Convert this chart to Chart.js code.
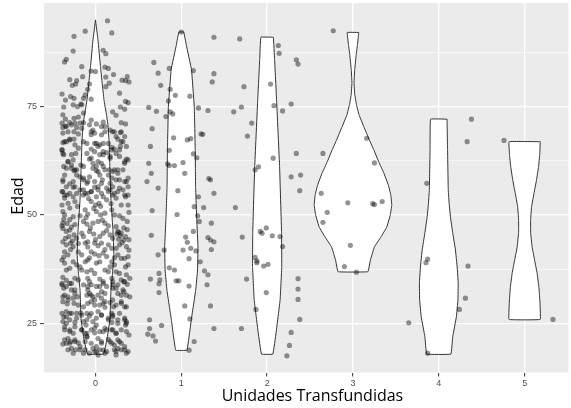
<!DOCTYPE html>
<html>
<head>
<meta charset="utf-8">
<script src="https://cdn.jsdelivr.net/npm/chart.js@4"></script>
<style>
  html, body { margin: 0; padding: 0; background: #fff; }
  #wrap { width: 571px; height: 408px; }
</style>
</head>
<body>
<div id="wrap"><canvas id="grafico"></canvas></div>
<script>
// categorias del eje x (unidades transfundidas)
const unidades = [0, 1, 2, 3, 4, 5];
const ticksEdad = [25, 37.5, 50, 62.5, 75, 87.5];
const ticksMayores = [25, 50, 75];

// perfil de cada violin: edad y semi-ancho (densidad)
const violinEdad0 = [95.0, 90.4, 84.2, 76.5, 73.1, 70.8, 67.3, 60.4, 53.5, 46.5, 40.8, 36.2, 32.7, 25.8, 21.2, 17.9];
const violinAncho0 = [0, .029, .058, .099, .128, .145, .157, .168, .180, .203, .214, .197, .180, .168, .133, .093];
const violinEdad1 = [92.2, 89.2, 83.5, 74.9, 65.0, 56.5, 48.8, 42.6, 37.3, 32.7, 25.8, 18.8];
const violinAncho1 = [.029, .058, .119, .151, .162, .166, .180, .194, .189, .168, .116, .066];
const violinEdad2 = [91.0, 85.8, 76.5, 61.1, 45.9, 38.0, 30.4, 22.8, 17.9];
const violinAncho2 = [.073, .087, .110, .145, .168, .170, .151, .104, .066];
const violinEdad3 = [92.1, 89.2, 86.9, 83.5, 80.5, 77.7, 75.4, 73.1, 70.3, 67.3, 65.0, 62.2, 59.7, 56.9, 54.6, 52.3, 50.0, 47.2, 44.9, 42.6, 39.6, 36.9];
const violinAncho3 = [.067, .052, .037, .020, .012, .021, .041, .070, .128, .191, .243, .301, .359, .412, .441, .452, .435, .394, .325, .249, .203, .174];
const violinEdad4 = [72.1, 65.0, 55.8, 52.3, 49.5, 45.9, 41.9, 38.0, 34.3, 30.4, 26.5, 21.9, 17.9];
const violinAncho4 = [.096, .102, .110, .122, .136, .162, .194, .214, .226, .223, .205, .162, .141];
const violinEdad5 = [66.9, 63.9, 61.1, 58.1, 55.1, 51.9, 48.9, 45.9, 42.6, 39.6, 36.6, 33.4, 30.4, 25.9];
const violinAncho5 = [.182, .176, .162, .139, .110, .081, .070, .070, .087, .116, .145, .166, .177, .182];

// pacientes: [desplazamiento jitter, edad]
const puntos0 = [
  [0.14,94.8],[-0.12,92.4],[0.19,92.0],[-0.25,91.2],[-0.26,87.8],[0.09,88.0],[0.12,87.2],[-0.34,85.9],[-0.36,85.3],
  [-0.16,84.2],[0.11,84.1],[0.15,83.8],[-0.05,83.2],[0.00,83.1],[0.21,82.4],[0.12,81.8],[-0.15,81.9],[-0.30,81.2],
  [-0.22,81.0],[-0.23,80.2],[0.37,81.9],[0.35,81.0],[0.39,80.7],[0.31,81.1],[0.16,80.4],[0.12,79.6],[-0.07,80.2],
  [-0.09,79.0],[-0.27,79.9],[-0.39,77.9],[-0.12,77.7],[-0.14,76.9],[0.28,78.1],[-0.25,76.9],[-0.29,77.3],[-0.35,76.5],
  [0.35,76.2],[0.38,75.9],[-0.05,76.7],[-0.17,75.6],
  [-0.37,74.9],[-0.26,75.4],[-0.21,75.0],[-0.16,75.4],[0.20,73.8],[0.24,73.0],[0.29,74.9],[0.34,74.4],[-0.38,73.1],
  [-0.35,72.1],[-0.25,72.3],[-0.20,72.6],[-0.14,73.5],[-0.30,71.3],[-0.35,70.5],[-0.38,70.2],[-0.24,71.2],[-0.22,70.2],
  [-0.14,71.3],[-0.05,71.9],[0.01,71.0],[0.09,71.4],[0.11,70.4],[0.17,69.6],[0.22,69.2],[0.30,71.3],[0.35,71.0],
  [0.29,69.0],[-0.05,69.2],[-0.01,68.9],[-0.32,69.2],[-0.25,69.2],[-0.20,68.7],[-0.38,68.9],[0.07,68.5],[-0.30,67.5],
  [-0.25,67.5],[0.26,67.5],[0.32,66.9],[-0.14,66.9],[-0.10,66.5],[0.01,66.5],[0.05,66.2],[0.09,66.5],[-0.38,66.7],
  [-0.34,66.9],[-0.39,65.0],[0.19,65.6],[0.22,65.2],[0.28,65.0],[0.29,65.8],[-0.05,65.2],[-0.01,64.6],[-0.23,64.2],
  [-0.28,63.9],[0.09,63.9],[0.13,64.4],[-0.37,63.9],[-0.07,62.9],[0.17,63.1],[0.36,62.9],[0.34,61.9],[-0.32,62.3],
  [-0.26,62.7],[0.03,62.3],[0.07,61.9],[-0.17,61.5],[-0.14,61.2],[-0.37,61.2],[-0.28,60.8],[-0.25,60.2],[-0.22,60.4],
  [-0.03,60.8],[0.01,60.2],[0.16,60.4],[0.20,60.0],[0.26,60.4],[0.09,61.2],[-0.36,59.2],[-0.38,58.1],[-0.18,58.8],
  [-0.14,58.1],[-0.09,57.7],[-0.07,58.8],[0.05,59.2],[0.08,58.1],[0.19,58.5],[0.24,58.1],[0.36,57.7],[0.38,58.5],
  [-0.30,57.2],[-0.26,56.4],[-0.01,56.4],[0.03,55.8],[0.13,56.2],[0.17,55.8],[0.28,56.2],[-0.38,55.4],[-0.33,54.6],
  [-0.14,55.8],[-0.22,55.0],[-0.05,55.4],[0.22,55.0],[0.34,54.6],
  [-0.39,71.2],[-0.34,70.4],[-0.28,70.8],[-0.18,71.2],[-0.16,70.0],[-0.07,70.8],[-0.03,69.6],[-0.05,68.5],[0.07,70.4],
  [0.11,69.2],[0.20,69.2],[0.24,68.1],[0.30,69.2],[0.34,68.1],[-0.36,66.9],[-0.30,67.3],[-0.24,66.2],[-0.20,65.4],
  [-0.39,65.0],[-0.38,64.2],[-0.01,66.5],[0.03,65.8],[0.15,66.5],[0.19,65.0],[0.30,66.9],[0.36,65.8],[-0.10,64.2],
  [-0.05,63.1],[0.05,63.9],[0.09,64.6],[0.17,63.5],[0.24,64.2],[0.28,63.5],[0.34,62.3],[0.38,62.7],[-0.32,62.3],
  [-0.28,61.5],[-0.34,60.8],[-0.24,60.4],[-0.22,59.2],[-0.03,61.9],[0.01,61.2],[0.03,60.0],[0.11,60.4],[0.15,59.2],
  [0.22,60.4],[0.26,59.6],[0.32,60.4],[-0.14,58.5],[-0.10,57.3],[-0.38,57.7],[-0.34,56.5],[-0.26,57.7],[-0.24,56.5],
  [-0.01,57.7],[0.03,56.5],[0.07,57.3],[0.17,57.3],[0.20,56.5],[0.28,58.1],[0.34,57.7],[0.38,56.5],[-0.39,55.4],
  [-0.36,54.6],[-0.30,55.0],[-0.18,55.8],[-0.12,55.0],[-0.05,55.4],[0.01,54.2],[0.07,55.0],[0.15,55.4],[0.20,54.6],
  [0.26,55.4],[0.32,55.8],[0.38,54.6],
  [-0.36,53.9],[-0.32,52.7],[-0.30,51.6],[-0.26,54.2],[-0.24,53.1],[-0.39,52.3],[-0.38,50.8],[-0.14,54.6],[-0.09,55.0],
  [-0.05,53.1],[0.00,52.3],[0.04,52.7],[0.09,54.2],[0.13,53.5],[0.24,53.9],[0.30,52.3],[0.35,54.2],[0.38,52.3],
  [-0.12,51.2],[-0.09,50.2],[0.01,50.8],[0.06,50.0],[0.11,50.4],[0.19,51.2],[0.22,50.0],[-0.26,49.6],[-0.30,48.9],
  [-0.37,49.0],[-0.38,48.1],[0.32,49.2],[0.37,48.5],[-0.14,48.5],[-0.10,47.9],[-0.03,48.1],[0.03,48.5],[0.11,48.1],
  [0.15,47.5],[0.24,47.3],[0.26,46.2],[-0.38,46.9],[-0.34,46.2],[-0.30,46.5],[-0.25,45.4],[-0.22,44.6],[-0.16,45.8],
  [-0.14,45.0],[-0.07,46.2],[-0.02,45.6],[0.05,45.0],[0.09,45.8],[0.17,45.4],[0.20,44.6],[0.30,45.8],[0.35,45.0],
  [0.33,44.2],[-0.38,43.8],[-0.34,43.1],[-0.29,43.5],[-0.26,42.7],[-0.12,43.5],[-0.09,43.8],[-0.01,43.5],[0.03,42.9],
  [0.07,43.5],[0.15,43.1],[0.19,42.3],[0.24,42.3],[0.28,43.1],[0.36,42.7],[0.39,41.9],[-0.36,41.5],[-0.32,40.8],
  [-0.20,41.5],[-0.16,40.8],[-0.05,41.5],[-0.01,41.0],[0.09,41.2],[0.13,40.4],[0.26,40.8],[0.30,40.0],[0.34,40.0],
  [0.38,40.4],[-0.39,39.6],[-0.36,38.9],[-0.26,39.2],[-0.22,38.5],[-0.12,39.2],[-0.09,39.6],[0.01,38.9],[0.05,39.2],
  [0.19,39.2],[0.22,38.5],[0.38,38.5],[-0.34,37.3],[-0.30,37.7],[-0.16,37.3],[-0.10,36.9],[-0.05,37.3],[-0.01,36.5],
  [0.11,37.3],[0.15,36.9],[0.24,36.9],[0.28,36.5],[0.36,36.2],[0.40,35.4],[-0.38,35.6],[-0.34,34.9],[-0.24,35.4],
  [-0.20,35.0],[-0.09,35.4],[-0.07,34.6],[0.05,35.2],[0.09,34.6],[0.19,35.4],[0.20,34.6],[0.30,35.0],[0.34,34.6],
  [0.27,46.0],[0.29,45.2],[0.27,44.4],[0.31,43.6],[0.25,45.6],[0.33,47.0],[-0.33,48.0],[-0.28,47.2],[-0.31,45.0],
  [-0.27,44.0],[-0.35,44.6],[-0.24,47.8],[-0.29,42.0],[-0.08,53.8],[-0.02,51.5],[0.06,52.0],[-0.11,49.4],[0.08,48.8],
  [-0.06,47.0],[0.13,46.4],[0.00,44.3],[-0.09,42.6],[0.11,42.0],[0.04,40.6],[-0.07,40.1],[-0.39,47.5],[-0.36,50.0],
  [0.39,50.6],[0.37,46.6],[0.39,44.3],[-0.37,40.3],[0.35,38.0],[-0.21,52.0],[0.18,52.6],[-0.18,49.8],[0.28,49.8],
  [-0.20,43.4],[0.22,40.1],[-0.18,38.0],[0.17,38.0],
  [-0.39,33.9],[-0.37,33.1],[-0.30,34.2],[-0.28,32.7],[-0.09,33.5],[-0.05,33.9],[0.05,33.5],[0.09,34.2],[0.20,33.9],
  [0.24,33.1],[0.33,34.6],[0.37,34.0],[-0.36,31.5],[-0.32,31.1],[-0.24,31.9],[-0.21,31.1],[-0.10,31.5],[-0.07,31.9],
  [-0.03,31.1],[0.03,31.5],[0.07,30.8],[0.11,31.9],[0.26,31.9],[0.30,31.5],[0.33,32.3],[0.40,31.1],[-0.38,30.0],
  [-0.33,29.5],[-0.25,29.6],[-0.05,30.0],[-0.01,29.2],[0.09,29.6],[0.11,28.7],[0.17,29.8],[0.21,28.8],[0.30,29.6],
  [0.34,28.8],[-0.34,27.7],[-0.30,27.3],[-0.37,26.5],[-0.22,27.3],[-0.17,27.4],[-0.10,27.3],[-0.07,26.7],[0.03,27.7],
  [0.07,26.9],[0.19,27.3],[0.20,26.5],[0.28,27.3],[0.34,26.2],[0.36,25.4],[0.35,24.6],[-0.38,25.4],[-0.34,25.0],
  [-0.30,25.8],[-0.24,25.2],[-0.14,25.4],[-0.11,24.6],[-0.03,25.4],[0.01,24.6],[0.15,25.8],[0.19,25.2],[0.26,25.0],
  [-0.36,23.5],[-0.30,23.1],[-0.26,22.7],[-0.16,23.5],[-0.12,22.7],[-0.05,23.5],[-0.01,22.8],[0.09,23.1],[0.13,23.5],
  [0.20,23.5],[0.24,22.7],[0.36,23.1],[0.39,22.3],[-0.10,21.9],[-0.32,21.5],[-0.29,20.8],[-0.24,21.2],[-0.20,20.5],
  [-0.12,20.8],[0.03,21.5],[0.07,20.8],[0.15,21.3],[0.19,20.4],[0.26,21.2],[0.30,20.4],[-0.38,20.2],[-0.34,20.4],
  [-0.28,19.2],[-0.23,18.9],[-0.18,18.9],[-0.14,18.1],[-0.03,19.2],[0.01,18.5],[0.09,18.9],[0.13,18.5],[0.22,18.9],
  [0.26,19.2],[0.34,18.9],[0.38,18.5],[-0.07,18.1],[0.03,17.7],[0.24,17.7],
  [-0.39,34.2],[-0.34,33.5],[-0.28,34.2],[-0.24,32.7],[-0.14,33.9],[-0.09,32.7],[-0.05,31.5],[0.01,33.5],[0.07,32.3],
  [0.13,33.5],[0.20,33.1],[0.26,33.9],[0.32,32.7],[0.36,31.5],[-0.38,31.1],[-0.32,30.4],[-0.26,30.8],[-0.20,29.2],
  [-0.14,28.8],[-0.09,29.6],[-0.01,30.4],[0.05,29.2],[0.11,30.0],[0.20,30.4],[0.24,29.2],[0.30,30.0],[0.36,28.8],
  [-0.39,27.3],[-0.34,26.5],[-0.28,27.3],[-0.22,26.2],[-0.16,26.9],[-0.10,25.8],[-0.05,27.3],[0.01,26.2],[0.07,26.9],
  [0.15,26.2],[0.20,26.9],[0.26,25.8],[0.34,25.8],[0.36,25.0],[-0.36,24.2],[-0.30,23.5],[-0.24,24.2],[-0.16,23.5],
  [-0.10,22.7],[-0.01,23.9],[0.05,23.1],[0.11,23.9],[0.19,23.5],[0.24,22.7],[0.30,23.5],[-0.10,21.9],[-0.36,21.2],
  [-0.30,20.4],[-0.24,20.8],[-0.18,19.6],[-0.12,18.9],[-0.05,20.4],[0.01,19.6],[0.07,20.4],[0.17,20.8],[0.22,20.0],
  [0.28,20.8],[0.34,19.6],[-0.32,18.9],[-0.26,18.1],[-0.01,18.5],[0.05,18.9],[0.11,18.1],[0.24,18.5],[0.30,18.9],
  [0.36,18.1]
];
const puntos1 = [
  [0.00,92.2],[0.38,91.0],[-0.32,85.2],[-0.27,82.7],[-0.14,83.8],[0.14,83.3],[-0.24,79.9],[0.38,82.6],[0.36,80.7],
  [-0.13,79.0],[-0.07,77.6],[0.10,77.4],[-0.15,76.3],[-0.38,74.8],[-0.29,73.9],[-0.13,73.8],[-0.10,73.3],[-0.18,72.7],
  [0.20,74.7],[0.31,74.1],[-0.34,69.9],[0.23,68.7],[0.25,68.6],[-0.09,67.8],[0.07,67.3],[0.11,67.6],[-0.36,65.8],
  [-0.14,64.9],[0.14,64.1],[0.18,63.2],[-0.38,61.9],[-0.16,61.8],[-0.14,61.4],[-0.08,61.4],[0.02,62.1],[-0.35,59.6],
  [0.04,59.6],[-0.40,57.7],[0.32,58.4],[0.34,58.1],[-0.27,56.2],[-0.04,55.6],[0.38,55.0],[0.20,54.2],[-0.34,51.0],
  [0.15,51.9],[0.26,51.7],[-0.05,50.1],[0.19,49.8],[0.21,48.5],[0.35,48.1],[0.14,46.2],[-0.35,45.3],[0.05,44.9],
  [0.07,43.7],[0.31,44.8],[0.34,44.2],[0.38,43.8],[-0.20,41.9],[0.02,41.9],[0.11,42.3],[0.17,41.7],[0.35,42.0],
  [-0.27,40.8],[0.09,39.9],[0.22,39.2],[-0.14,37.8],[-0.08,37.3],[-0.26,36.5],[0.27,37.1],[0.31,36.2],[-0.36,35.2],
  [-0.25,35.0],[-0.26,34.1],[-0.06,34.8],[-0.03,34.8],[0.09,33.6],[0.30,33.9],[-0.26,32.1],[0.04,29.0],[0.34,29.0],
  [0.10,26.0],[-0.23,24.5],[-0.37,25.8],[-0.37,23.8],[0.38,23.8],[-0.39,22.5],[-0.33,22.1],[-0.30,20.9],[0.15,20.8],
  [0.09,18.8]
];
const puntos2 = [
  [-0.32,90.6],[-0.23,68.2],[-0.37,51.7],[-0.29,44.9],[-0.24,35.2],[-0.30,23.8],[-0.27,79.6],[-0.39,73.8],[-0.30,74.9],
  [0.13,89.1],[0.14,87.3],[0.34,85.8],[0.36,84.8],[0.04,80.2],[0.08,75.2],[0.28,75.6],[0.18,74.0],[-0.18,71.2],
  [0.34,64.2],[0.07,63.1],[-0.10,61.1],[-0.14,60.4],[0.28,58.8],[0.39,59.2],[0.38,55.6],[-0.08,46.2],[-0.06,45.8],
  [-0.01,47.0],[0.06,45.2],[0.15,45.0],[0.18,42.7],[-0.14,40.2],[-0.12,39.4],[-0.12,39.0],[-0.04,38.2],[0.01,38.6],
  [0.36,35.3],[-0.01,32.1],[0.36,32.9],[-0.13,28.2],[0.36,30.5],[0.38,25.9],[0.28,22.9],[0.26,19.9],[0.23,17.5]
];
const puntos3 = [
  [-0.35,64.2],[-0.23,92.5],[-0.37,55.0],[-0.30,50.6],[-0.35,48.3],[-0.06,52.8],[0.23,52.6],[0.25,52.4],[-0.03,43.0],
  [-0.10,38.1],[0.04,36.8],[0.16,67.7],[0.25,62.0],[0.34,53.1]
];
const puntos4 = [
  [0.38,72.1],[0.33,66.9],[-0.14,57.3],[-0.13,39.8],[-0.15,39.0],[0.34,38.2],[0.31,30.8],[0.24,28.2],[-0.35,25.1],[-0.13,18.1]
];
const puntos5 = [[-0.24,67.2],[0.33,25.9]];

const violinesEdad = [violinEdad0, violinEdad1, violinEdad2, violinEdad3, violinEdad4, violinEdad5];
const violinesAncho = [violinAncho0, violinAncho1, violinAncho2, violinAncho3, violinAncho4, violinAncho5];
const todosPuntos = [puntos0, puntos1, puntos2, puntos3, puntos4, puntos5];

// contorno cerrado de un violin
function contorno(g) {
  const ys = violinesEdad[g], ws = violinesAncho[g];
  const pts = [];
  for (let i = 0; i < ys.length; i++) pts.push({x: g + ws[i], y: ys[i]});
  for (let i = ys.length - 1; i >= 0; i--) pts.push({x: g - ws[i], y: ys[i]});
  pts.push({x: pts[0].x, y: pts[0].y});
  return pts;
}

const jitterData = [];
todosPuntos.forEach((lista, g) => {
  lista.forEach(p => jitterData.push({x: g + p[0], y: p[1]}));
});

const datasets = [{
  label: 'pacientes',
  data: jitterData,
  showLine: false,
  pointRadius: 2.6,
  pointHoverRadius: 2.6,
  pointBorderWidth: 0,
  pointBackgroundColor: 'rgba(0,0,0,0.42)',
  order: 0
}];
unidades.forEach(g => {
  datasets.push({
    label: 'violin ' + g,
    data: contorno(g),
    borderColor: '#333333',
    borderWidth: 1,
    backgroundColor: '#ffffff',
    fill: 'shape',
    pointRadius: 0,
    tension: 0.05,   // evita el trazado rapido que supone x ordenado
    order: 1
  });
});

const fondoPanel = {
  id: 'fondoPanel',
  beforeDraw(chart) {
    const {ctx, chartArea: a} = chart;
    ctx.save();
    ctx.fillStyle = '#EBEBEB';
    ctx.fillRect(a.left, a.top, a.right - a.left, a.bottom - a.top);
    ctx.restore();
  }
};

const esMayor = v => ticksMayores.indexOf(v) >= 0;

new Chart(document.getElementById('grafico'), {
  type: 'line',
  data: {datasets: datasets},
  plugins: [fondoPanel],
  options: {
    responsive: true,
    maintainAspectRatio: false,
    animation: false,
    devicePixelRatio: 1,
    layout: {padding: {top: 3, right: 0, left: 0, bottom: 0}},
    plugins: {legend: {display: false}, tooltip: {enabled: false}},
    scales: {
      x: {
        type: 'linear',
        min: -0.6,
        max: 5.51,
        afterBuildTicks: s => { s.ticks = unidades.map(v => ({value: v})); },
        afterFit: s => { s.height = 35.5; s.paddingLeft = 0; s.paddingRight = 0; },
        border: {display: false},
        grid: {color: '#ffffff', lineWidth: 1.3, tickLength: 4, tickColor: '#333333', tickWidth: 1},
        ticks: {color: '#4D4D4D', padding: 2, font: {family: 'Liberation Sans', size: 9}, callback: v => String(v)},
        title: {display: true, text: '   Unidades Transfundidas', color: '#000000', padding: {top: 0, bottom: 2.4},
                font: {family: 'Open Sans', size: 16}}
      },
      y: {
        type: 'linear',
        min: 13.65,
        max: 98.9,
        afterBuildTicks: s => { s.ticks = ticksEdad.map(v => ({value: v})); },
        afterFit: s => { s.width = 44; s.paddingTop = 0; s.paddingBottom = 0; },
        border: {display: false},
        grid: {
          color: '#ffffff',
          lineWidth: c => esMayor(c.tick.value) ? 1.3 : 0.6,
          tickLength: 4,
          tickColor: c => esMayor(c.tick.value) ? '#333333' : 'rgba(0,0,0,0)',
          tickWidth: 1
        },
        ticks: {color: '#4D4D4D', padding: 3, font: {family: 'Liberation Sans', size: 9},
                callback: v => esMayor(v) ? String(v) : ''},
        title: {display: true, text: 'Edad    ', color: '#000000', padding: {top: 9, bottom: 0},
                font: {family: 'Open Sans', size: 16}}
      }
    }
  }
});
</script>
</body>
</html>
